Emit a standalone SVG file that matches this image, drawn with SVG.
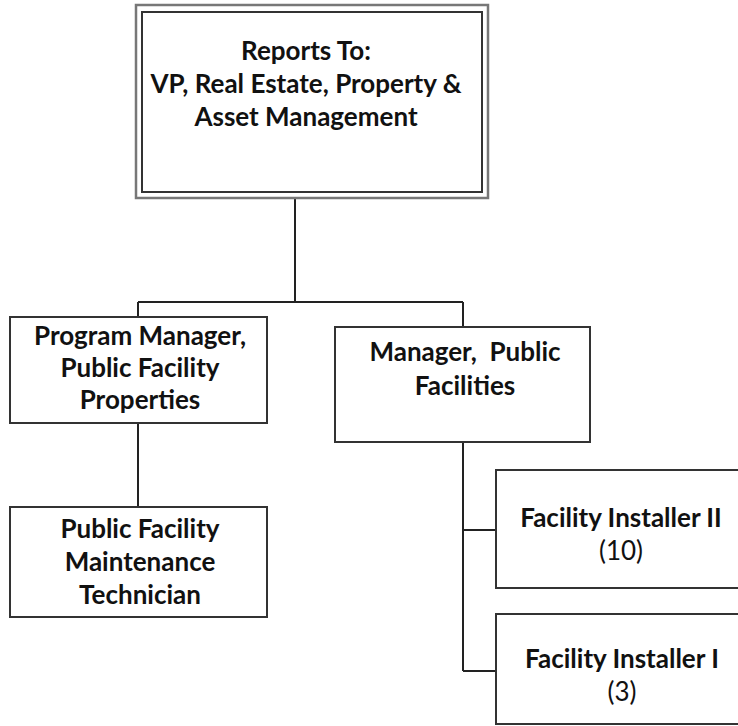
<svg xmlns="http://www.w3.org/2000/svg" width="738" height="726" viewBox="0 0 738 726">
<style>
.box{fill:#fff;stroke:#333;stroke-width:2}
.ln{fill:none;stroke:#222;stroke-width:2}
text{font-family:Lato,"Liberation Sans",sans-serif;font-weight:bold;font-size:26px;fill:#111;text-anchor:middle}
.n{font-weight:normal}
</style>
<rect width="738" height="726" fill="#fff"/>
<g id="connectors">
<path class="ln" d="M295,199 V302 M138,302 H463 M138,302 V317 M463,302 V327"/>
<path class="ln" d="M138,423 V507"/>
<path class="ln" d="M463,442 V671 M463,530 H496 M463,671 H496"/>
</g>
<g id="top">
<rect x="136" y="5" width="352" height="193" fill="#fff" stroke="#777" stroke-width="2.5"/>
<rect x="142" y="12" width="340" height="180" fill="none" stroke="#333" stroke-width="2"/>
<text x="306" y="60">Reports To:</text>
<text x="306" y="93">VP, Real Estate, Property &amp;</text>
<text x="306" y="126">Asset Management</text>
</g>
<g id="pm">
<rect class="box" x="10" y="317" width="257" height="106"/>
<text x="140" y="345">Program Manager,</text>
<text x="140" y="377">Public Facility</text>
<text x="140" y="409">Properties</text>
</g>
<g id="mgr">
<rect class="box" x="335" y="327" width="255" height="115"/>
<text x="465" y="361">Manager,&#160; Public</text>
<text x="465" y="395">Facilities</text>
</g>
<g id="tech">
<rect class="box" x="10" y="507" width="257" height="110"/>
<text x="140" y="538">Public Facility</text>
<text x="140" y="571">Maintenance</text>
<text x="140" y="604">Technician</text>
</g>
<g id="fi2">
<rect class="box" x="496" y="470" width="260" height="118"/>
<text x="621" y="527">Facility Installer II</text>
<text class="n" x="621" y="560">(10)</text>
</g>
<g id="fi1">
<rect class="box" x="496" y="614" width="260" height="110"/>
<text x="622" y="668">Facility Installer I</text>
<text class="n" x="622" y="701">(3)</text>
</g>
</svg>
